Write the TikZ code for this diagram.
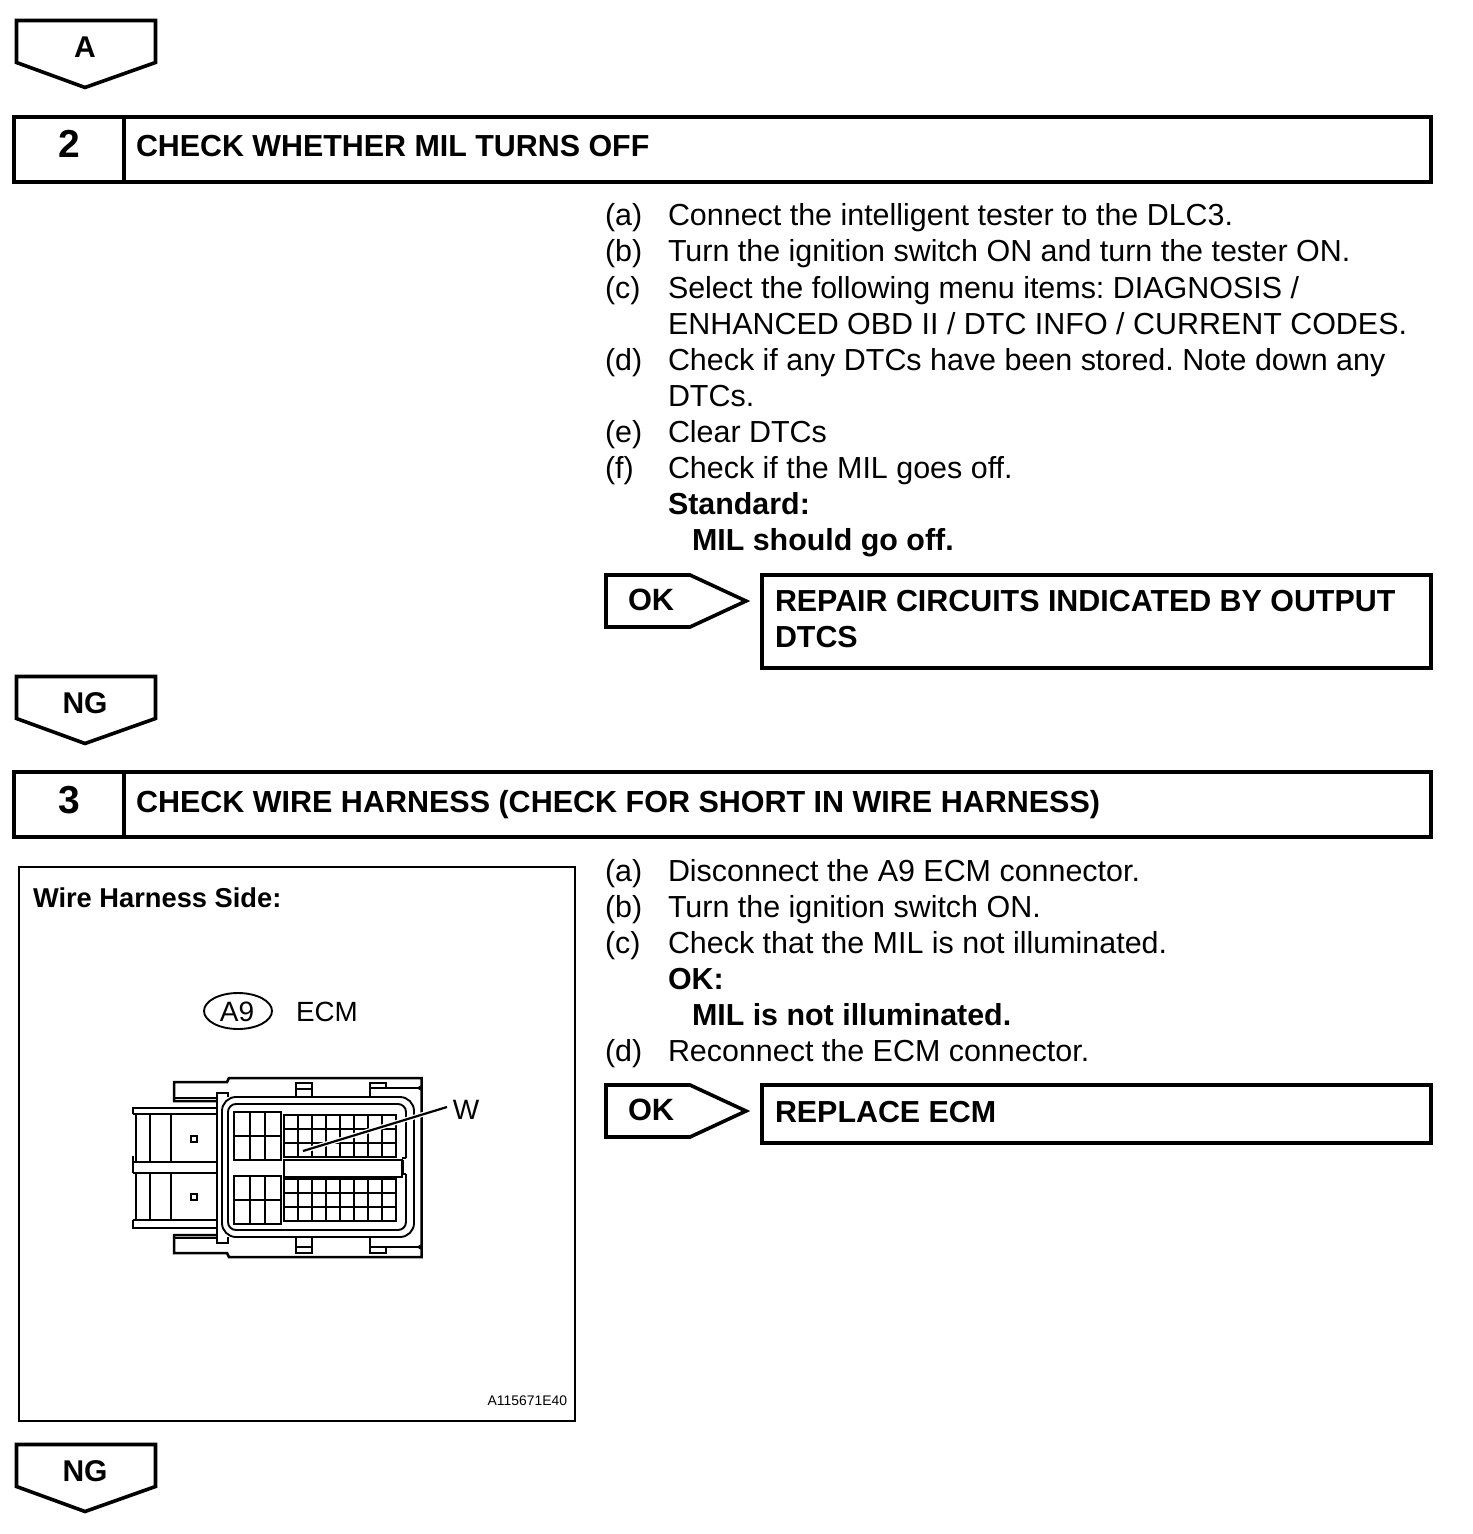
\documentclass[tikz,border=0pt]{standalone}
\usepackage{fontspec}
\setmainfont{Liberation Sans}
\usetikzlibrary{calc}
\frenchspacing
\newcommand{\bodysize}{\fontsize{15.22}{18}\selectfont}
\newcommand{\headsize}{\fontsize{15.2}{18}\bfseries\selectfont}
\tikzset{
  x=0.5pt,y=-0.5pt,
  every node/.style={inner sep=0pt,outer sep=0pt},
  txt/.style={anchor=base west,font=\bodysize,text=black},
  btxt/.style={anchor=base west,font=\headsize,text=black},
  numtxt/.style={anchor=base,font=\fontsize{19.5}{20}\bfseries\selectfont},
  flagtxt/.style={anchor=base,font=\fontsize{15}{18}\bfseries\selectfont},
  heavy/.style={draw=black,line width=2.4pt,miter limit=10},
  flag/.style={draw=black,line width=1.8pt,line join=miter},
  figframe/.style={draw=black,line width=1.1pt},
  thick1/.style={draw=black,line width=1.25pt},
  mid1/.style={draw=black,line width=0.95pt},
  thin1/.style={draw=black,line width=0.6pt},
  cell/.style={draw=black,line width=1pt},
}
\newcommand{\pentdown}[4]{% name, text, top y, baseline
  \draw[flag] (16.5,#3) -- (155.5,#3) -- (155.5,#3+42) -- (85,#3+67) -- (16.5,#3+42) -- cycle;
  \node[flagtxt] (#1) at (85,#4) {#2};
}
\newcommand{\okflag}[3]{% name, top y, baseline
  \draw[flag] (606,#2) -- (690,#2) -- (746,#2+26) -- (690,#2+52) -- (606,#2+52) -- cycle;
  \node[btxt,font=\fontsize{15.4}{18}\bfseries\selectfont] (#1) at (628,#3) {OK};
}
\begin{document}
\begin{tikzpicture}
\useasboundingbox (0,0) rectangle (1472,1534);
% flags
\pentdown{flagA}{A}{20.5}{58}
\pentdown{flagNGa}{NG}{676.5}{713}
\pentdown{flagNGb}{NG}{1444.5}{1481}
% header 2
\draw[heavy] (14,117) rectangle (1431,182);
\draw[heavy] (124,117) -- (124,182);
\node[numtxt] (num2) at (69,158) {2};
\node[btxt] (head2) at (136,157) {CHECK WHETHER MIL TURNS OFF};
% header 3
\draw[heavy] (14,772) rectangle (1431,837);
\draw[heavy] (124,772) -- (124,837);
\node[numtxt] (num3) at (69,813) {3};
\node[btxt,font=\fontsize{15.25}{18}\bfseries\selectfont] (head3) at (136,812) {CHECK WIRE HARNESS (CHECK FOR SHORT IN WIRE HARNESS)};
% steps 2
\node[txt] (a1) at (605,226) {(a)};
\node[txt] (a2) at (668,226) {Connect the intelligent tester to the DLC3.};
\node[txt] (b1) at (605,262) {(b)};
\node[txt] (b2) at (668,262) {Turn the ignition switch ON and turn the tester ON.};
\node[txt] (c1) at (605,298.5) {(c)};
\node[txt] (c2) at (668,298.5) {Select the following menu items: DIAGNOSIS /};
\node[txt] (c3) at (668,334.5) {ENHANCED OBD II / DTC INFO / CURRENT CODES.};
\node[txt] (d1) at (605,370.5) {(d)};
\node[txt] (d2) at (668,370.5) {Check if any DTCs have been stored. Note down any};
\node[txt] (d3) at (668,406.5) {DTCs.};
\node[txt] (e1) at (605,442.5) {(e)};
\node[txt] (e2) at (668,442.5) {Clear DTCs};
\node[txt] (f1) at (605,478) {(f)};
\node[txt] (f2) at (668,478) {Check if the MIL goes off.};
\node[btxt] (std1) at (668,514) {Standard:};
\node[btxt] (std2) at (692,550) {MIL should go off.};
% OK / repair
\okflag{okA}{575}{610}
\draw[heavy] (762,575) rectangle (1431,668);
\node[btxt] (rep1) at (775,611) {REPAIR CIRCUITS INDICATED BY OUTPUT};
\node[btxt] (rep2) at (775,647) {DTCS};
% steps 3
\node[txt] (sa1) at (605,881) {(a)};
\node[txt] (sa2) at (668,881) {Disconnect the A9 ECM connector.};
\node[txt] (sb1) at (605,917) {(b)};
\node[txt] (sb2) at (668,917) {Turn the ignition switch ON.};
\node[txt] (sc1) at (605,953) {(c)};
\node[txt] (sc2) at (668,953) {Check that the MIL is not illuminated.};
\node[btxt] (sok1) at (668,989) {OK:};
\node[btxt] (sok2) at (692,1025) {MIL is not illuminated.};
\node[txt] (sd1) at (605,1061) {(d)};
\node[txt] (sd2) at (668,1061) {Reconnect the ECM connector.};
\okflag{okB}{1085}{1120}
\draw[heavy] (762,1085) rectangle (1431,1143);
\node[btxt] (rep3) at (775,1122) {REPLACE ECM};
% figure frame
\draw[figframe] (19,867) rectangle (575,1421);
\node[btxt,font=\fontsize{13.64}{16}\bfseries\selectfont] (wh) at (33,907) {Wire Harness Side:};
\draw[mid1] (238,1011) ellipse [x radius=34,y radius=18];
\node[txt,font=\fontsize{14}{16}\selectfont,anchor=base] (a9) at (237,1021) {A9};
\node[txt,font=\fontsize{13.9}{16}\selectfont] (ecm) at (296,1021) {ECM};
\node[txt,font=\fontsize{6.95}{9}\selectfont,anchor=base east] (code) at (567,1405) {A115671E40};
% connector: body outline with side tabs
\draw[thick1,line join=miter] (216,1101) -- (174,1101) -- (174,1082) -- (227,1082) -- (229,1078) -- (421.5,1078) -- (421.5,1257) -- (229,1257) -- (227,1253) -- (174,1253) -- (174,1235) -- (216,1235);
\draw[thin1] (174,1098) -- (216,1098);
\draw[thin1] (174,1238) -- (216,1238);
\fill[black] (420.5,1088) circle [radius=1.2pt];
\fill[black] (420.5,1247) circle [radius=1.2pt];
% flange
\draw[thin1] (217,1122) -- (217,1093) -- (228,1093) -- (228,1097);
\draw[thin1] (217,1122) -- (217,1243) -- (228,1243) -- (228,1237);
% plug
\draw[thick1,line cap=butt] (216,1108) -- (133,1108) -- (133,1114);
\draw[thick1] (136,1114) -- (136,1162);
\draw[thick1] (133,1156) -- (133,1162);
\draw[mid1] (133,1114) -- (217,1114);
\draw[mid1] (133,1162) -- (217,1162);
\draw[mid1] (133,1173) -- (217,1173);
\draw[thick1] (133,1162) -- (133,1173);
\draw[thick1] (136,1173) -- (136,1220);
\draw[mid1] (133,1220) -- (217,1220);
\draw[thick1] (133,1220) -- (133,1228) -- (216,1228);
\draw[thin1] (150,1114) -- (150,1162);
\draw[thin1] (150,1173) -- (150,1220);
\draw[mid1] (171,1114) -- (171,1162);
\draw[mid1] (171,1173) -- (171,1220);
\draw[mid1] (191,1136) rectangle (197,1142);
\draw[mid1] (191,1194) rectangle (197,1200);
% shell
\draw[mid1,rounded corners=7pt] (222,1097) rectangle (414,1237);
\draw[mid1,rounded corners=4pt] (406,1158) -- (406,1104) -- (228,1104) -- (228,1230) -- (406,1230) -- (406,1174);
% clips
\draw[mid1] (296,1097) -- (296,1083) -- (312,1083) -- (312,1097);
\draw[mid1] (296,1089) -- (312,1089);
\draw[mid1] (296,1237) -- (296,1253) -- (312,1253) -- (312,1237);
\draw[mid1] (296,1247) -- (312,1247);
\draw[mid1] (370,1097) -- (370,1083) -- (386,1083) -- (386,1088);
\draw[mid1] (370,1088) -- (421,1088);
\draw[mid1] (370,1237) -- (370,1253) -- (386,1253) -- (386,1247);
\draw[mid1] (370,1247) -- (421,1247);
% left cell blocks
\foreach \yt/\yb/\ym in {1112/1160/1136,1176/1224/1200}{
  \draw[cell] (234,\yt) rectangle (281,\yb);
  \draw[cell] (250,\yt) -- (250,\yb);
  \draw[cell] (265,\yt) -- (265,\yb);
  \draw[cell] (234,\ym) -- (281,\ym);
}
% right cell grids
\foreach \yt in {1115,1179}{
  \draw[cell] (284,\yt) rectangle (396,\yt+42);
  \draw[cell] (284,\yt+14) -- (396,\yt+14);
  \draw[cell] (284,\yt+28) -- (396,\yt+28);
  \foreach \i in {1,...,7}{
    \draw[cell] (284+14*\i,\yt) -- (284+14*\i,\yt+42);
  }
}
% slot
\draw[mid1] (284,1160) rectangle (402,1177);
\draw[cell,line width=1.2pt] (403,1160) -- (403,1174);
\draw[mid1] (402,1158) -- (406,1158) (402,1174) -- (406,1174);
% leader
\node[txt,font=\fontsize{14}{16}\selectfont,anchor=base] (wlabel) at (466,1119) {W};
\coordinate (wstart) at (447,1107);
\coordinate (wend) at (303,1151);
\draw[white,line width=2.4pt] (wstart) -- (wend);
\draw[black,line width=1.1pt] (wstart) -- (wend);
\end{tikzpicture}
\end{document}
